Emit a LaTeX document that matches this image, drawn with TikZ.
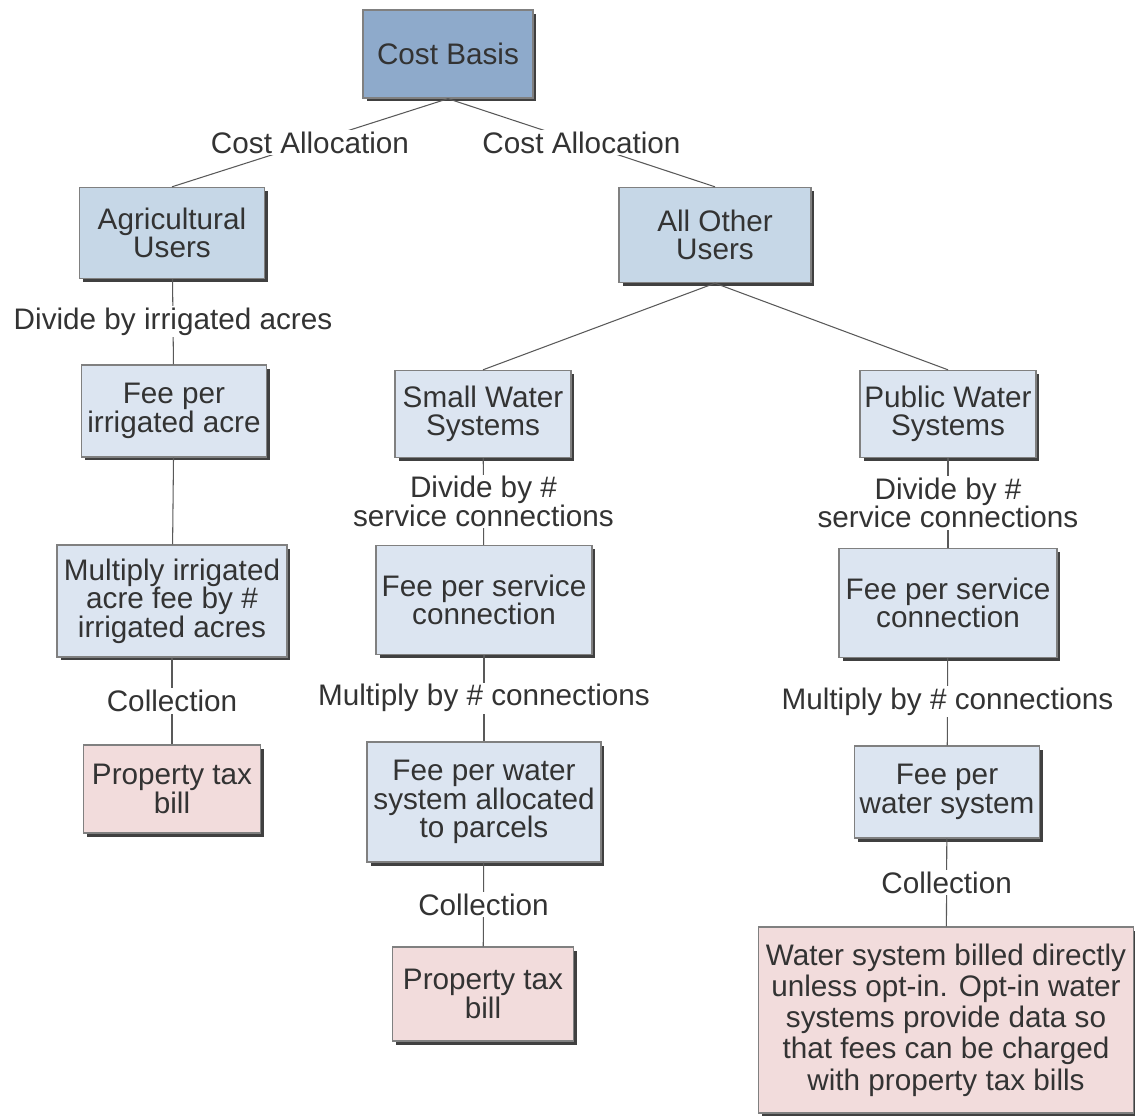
\documentclass[tikz,border=0pt]{standalone}
\usepackage{fontspec}
\setmainfont{Liberation Sans}
\usepackage{tikz}
\usepackage{xcolor}
\usetikzlibrary{
    shadows,
    positioning
}
\definecolor{basisfill}{HTML}{8EAACB}
\definecolor{userfill}{HTML}{C6D7E7}
\definecolor{feefill}{HTML}{DCE5F1}
\definecolor{billfill}{HTML}{F2DCDC}
\definecolor{inkgray}{HTML}{333333}

\begin{document}
\begin{tikzpicture}[x=0.02cm, y=-0.02cm,
        every node/.style={text=inkgray, font=\fontsize{16.9}{16.2}\selectfont, align=center},
        box/.style={draw=gray, line width=0.8pt, inner sep=2pt,
            drop shadow={shadow xshift=0.07cm, shadow yshift=-0.07cm, fill=black!75, opacity=1}},
        lbl/.style={fill=white, inner sep=1pt},
        link/.style={draw=black!65, line width=0.6pt}]
    \useasboundingbox (0, 0) rectangle (1135, 1119);

    \node[box, fill=basisfill, minimum width=3.40cm, minimum height=1.76cm] (basis) at (448, 54) {Cost Basis};

    \node[box, fill=userfill, minimum width=3.70cm, minimum height=1.82cm] (agri) at (172, 233) {Agricultural\\Users};
    \node[box, fill=feefill, minimum width=3.70cm, minimum height=1.84cm] (feeacre) at (174, 411) {Fee per\\irrigated acre};
    \node[box, fill=feefill, minimum width=4.60cm, minimum height=2.24cm] (mult) at (172, 601) {Multiply irrigated\\acre fee by \#\\irrigated acres};
    \node[box, fill=billfill, minimum width=3.54cm, minimum height=1.76cm] (taxa) at (172, 789) {Property tax\\bill};

    \node[box, fill=userfill, minimum width=3.84cm, minimum height=1.90cm] (other) at (715, 235) {All Other\\Users};

    \node[box, fill=feefill, minimum width=3.52cm, minimum height=1.74cm] (small) at (483, 414) {Small Water\\Systems};
    \node[box, fill=feefill, minimum width=4.32cm, minimum height=2.18cm] (svcs) at (484, 600) {Fee per service\\connection};
    \node[box, fill=feefill, minimum width=4.68cm, minimum height=2.40cm] (parcel) at (484, 802) {Fee per water\\system allocated\\to parcels};
    \node[box, fill=billfill, minimum width=3.62cm, minimum height=1.88cm] (taxs) at (483, 994) {Property tax\\bill};

    \node[box, fill=feefill, minimum width=3.52cm, minimum height=1.74cm] (public) at (948, 414) {Public Water\\Systems};
    \node[box, fill=feefill, minimum width=4.36cm, minimum height=2.18cm] (svcp) at (948, 603) {Fee per service\\connection};
    \node[box, fill=feefill, minimum width=3.70cm, minimum height=1.84cm] (feesys) at (947, 792) {Fee per\\water system};
    \node[box, fill=billfill, minimum width=7.50cm, minimum height=3.72cm,
        font=\fontsize{16.9}{17.8}\selectfont] (direct) at (946, 1020)
        {Water system billed directly\\unless opt-in. Opt-in water\\systems provide data so\\that fees can be charged\\with property tax bills};

    % top level
    \draw[link] (basis.south) -- node[lbl] {Cost Allocation} (agri.north);
    \draw[link] (basis.south) -- node[lbl] {Cost Allocation} (other.north);

    % agricultural branch
    \draw[link] (agri) -- node[lbl] {Divide by irrigated acres} (feeacre);
    \draw[link] (feeacre) -- (mult);
    \draw[link] (mult) -- node[lbl] {Collection} (taxa);

    % all other users
    \draw[link] (other.south) -- (small.north);
    \draw[link] (other.south) -- (public.north);

    \draw[link] (small) -- node[lbl] {Divide by \#\\service connections} (svcs);
    \draw[link] (svcs) -- node[lbl] {Multiply by \# connections} (parcel);
    \draw[link] (parcel) -- node[lbl] {Collection} (taxs);

    \draw[link] (public) -- node[lbl] {Divide by \#\\service connections} (svcp);
    \draw[link] (svcp) -- node[lbl] {Multiply by \# connections} (feesys);
    \draw[link] (feesys) -- node[lbl] {Collection} (direct);
\end{tikzpicture}
\end{document}
